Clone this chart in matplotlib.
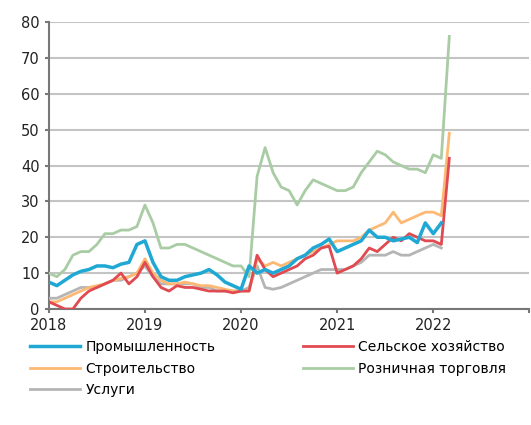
import numpy as np
import matplotlib
matplotlib.use("Agg")
import matplotlib.pyplot as plt

plt.rcParams['font.family'] = ['DejaVu Sans']

# monthly, Jan 2018 .. Mar 2022
start_year = 2018
industry = [7.5, 6.5, 8, 9.5, 10.5, 11, 12, 12, 11.5, 12.5, 13, 18, 19, 13, 9, 8, 8, 9, 9.5, 10, 11, 9.5, 7.5, 6.5, 5.5,
            12, 10, 11, 10, 11, 12, 14, 15, 17, 18, 19.5, 16, 17, 18, 19, 22, 20, 20, 19, 19.5, 20, 18.5, 24, 21, 24]
agriculture = [2, 1, 0, 0, 3, 5, 6, 7, 8, 10, 7, 9, 13, 9, 6, 5, 6.5, 6, 6, 5.5, 5, 5, 5, 4.5, 5, 5,
               15, 11, 9, 10, 11, 12, 14, 15, 17, 17.5, 10, 11, 12, 14, 17, 16, 18, 20, 19, 21, 20, 19, 19, 18, 42]
construction = [2, 2, 3, 4, 5, 6, 6.5, 7, 8, 8.5, 9, 10, 14, 10, 8, 7, 7, 7.5, 7, 6.5, 6.5, 6, 5.5, 5, 5, 5,
                14, 12, 13, 12, 13, 14, 15, 16, 17, 18, 19, 19, 19, 20, 22, 23, 24, 27, 24, 25, 26, 27, 27, 26, 49]
retail = [10, 9, 11, 15, 16, 16, 18, 21, 21, 22, 22, 23, 29, 24, 17, 17, 18, 18, 17, 16, 15, 14, 13, 12, 12, 9,
          37, 45, 38, 34, 33, 29, 33, 36, 35, 34, 33, 33, 34, 38, 41, 44, 43, 41, 40, 39, 39, 38, 43, 42, 76]
services = [3, 3, 4, 5, 6, 6, 6, 7, 8, 8, 9, 10, 12, 9, 7, 7, 7, 7, 7, 6, 6, 5, 5, 5, 5, 6,
            12, 6, 5.5, 6, 7, 8, 9, 10, 11, 11, 11, 11, 12, 13, 15, 15, 15, 16, 15, 15, 16, 17, 18, 17]

def xs(vals):
    return start_year + np.arange(len(vals)) / 12.0

fig = plt.figure(figsize=(5.31, 4.25), dpi=100)
ax = fig.add_axes([0.092, 0.273, 0.905, 0.675])

ax.plot(xs(services), services, color='#b5b5b5', lw=2, label='Услуги', zorder=3)
ax.plot(xs(retail), retail, color='#a9cca5', lw=2, label='Розничная торговля', zorder=3)
ax.plot(xs(construction), construction, color='#fdb973', lw=2, label='Строительство', zorder=4)
ax.plot(xs(agriculture), agriculture, color='#e04a50', lw=2, label='Сельское хозяйство', zorder=4)
ax.plot(xs(industry), industry, color='#1fa8d4', lw=2.5, label='Промышленность', zorder=5)

ax.set_xlim(2018, 2023)
ax.set_ylim(0, 80)
ax.set_yticks(range(0, 81, 10))
ax.set_xticks(range(2018, 2024))
ax.set_xticklabels(['2018', '2019', '2020', '2021', '2022', ''])
ax.yaxis.grid(True, color='#c4c4c4', lw=1.5)
ax.set_axisbelow(True)
for s in ['top', 'right']:
    ax.spines[s].set_visible(False)
for s in ['left', 'bottom']:
    ax.spines[s].set_color('#777777')
    ax.spines[s].set_linewidth(1.5)
ax.tick_params(colors='#777777', labelcolor='#222222', labelsize=10.5, width=1.5, length=3)

h, l = ax.get_legend_handles_labels()
order = ['Промышленность', 'Строительство', 'Услуги', 'Сельское хозяйство', 'Розничная торговля']
hh = [h[l.index(o)] for o in order]
fig.legend(hh, order, ncol=2, loc='upper left', bbox_to_anchor=(0.056, 0.2),
           frameon=False, fontsize=10, handlelength=3.6, handletextpad=0.4,
           columnspacing=6.3, labelspacing=0.55, borderaxespad=0, borderpad=0)

fig.savefig('out.png', dpi=100)
